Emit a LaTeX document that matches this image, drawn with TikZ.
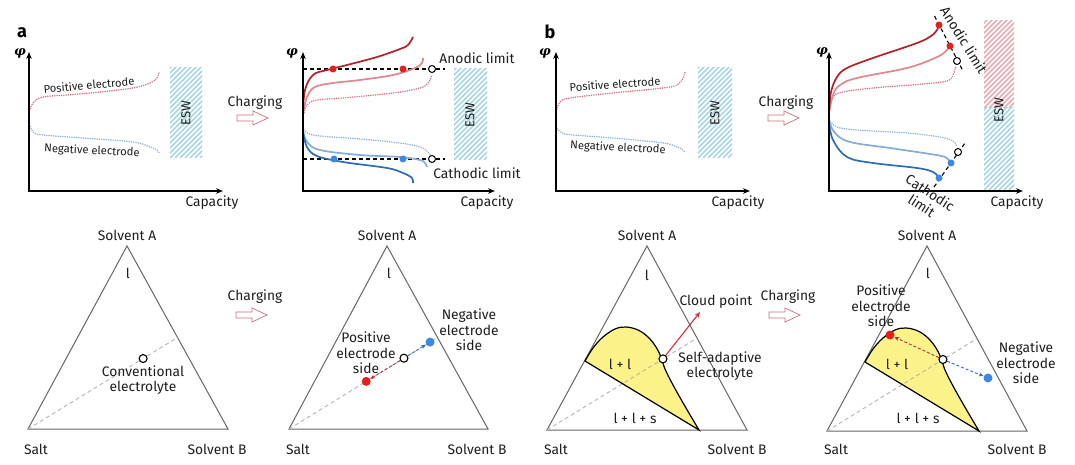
\documentclass[tikz,border=0pt]{standalone}
\usepackage{fontspec}
\setmainfont{Fira Sans}
\newfontfamily\phifont{DejaVu Serif}
\usetikzlibrary{arrows.meta,calc}
\definecolor{dkred}{HTML}{B2202B}
\definecolor{mdred}{HTML}{E0868E}
\definecolor{dtred}{HTML}{D47482}
\definecolor{ptred}{HTML}{E3201B}
\definecolor{dkblue}{HTML}{2E6CB0}
\definecolor{mdblue}{HTML}{86ABD4}
\definecolor{dtblue}{HTML}{8EB2D8}
\definecolor{ptblue}{HTML}{3C88E2}
\definecolor{htblue}{HTML}{A8D6E6}
\definecolor{htred}{HTML}{E9AEB4}
\definecolor{ylw}{HTML}{FBF38A}
\definecolor{trig}{HTML}{666666}
\definecolor{guideg}{HTML}{B4B4B4}
\definecolor{arrred}{HTML}{C9727C}
\definecolor{cloudred}{HTML}{D5303F}
\definecolor{txt}{HTML}{1E1E1E}
\definecolor{brred}{HTML}{A8343C}
\definecolor{brblue}{HTML}{3A70B0}

\newcommand\hatchbox[5]{%
  \begin{scope}
    \clip (#1,#2) rectangle (#3,#4);
    \foreach \i in {-200,-195,...,40}
      \draw[#5, line width=1.6pt] ({#1+\i},{#4}) -- ++(200,-200);
  \end{scope}}
\newcommand\chgarrow[2]{%
  \draw[arrred, line width=0.7pt, fill=white]
    ({#1},{#2-3}) -- ({#1+16},{#2-3}) -- ({#1+16},{#2-7}) -- ({#1+31},{#2})
    -- ({#1+16},{#2+7}) -- ({#1+16},{#2+3}) -- ({#1},{#2+3}) -- cycle;}
\newcommand\phisym{{\phifont\bfseries\itshape φ}}

\begin{document}
\begin{tikzpicture}[x=1pt,y=-1pt,
  lbl/.style={font=\fontsize{13.8}{15.5}\selectfont, inner sep=0pt, text=txt},
  tlbl/.style={font=\fontsize{13.8}{15.5}\selectfont, inner sep=0pt, text=txt, align=center},
  clbl/.style={font=\fontsize{11.2}{13}\selectfont, inner sep=0pt, text=txt},
  eswlbl/.style={font=\fontsize{13}{14}\selectfont, inner sep=0pt, text=txt, rotate=90},
  plbl/.style={font=\bfseries\fontsize{18}{18}\selectfont, inner sep=0pt},
  philbl/.style={font=\fontsize{13}{13}\selectfont, inner sep=0pt},
  axisl/.style={line width=1.4pt, {Stealth[length=7pt,width=5.5pt]}-{Stealth[length=7pt,width=5.5pt]}},
  dotc/.style={line width=1.7pt, dash pattern=on 0pt off 2.3pt, line cap=round},
  solc/.style={line width=1.7pt},
  gred/.style={circle, fill=ptred, minimum size=7pt, inner sep=0pt},
  gblue/.style={circle, fill=ptblue, minimum size=7pt, inner sep=0pt},
  ghol/.style={circle, draw=black, fill=white, line width=1pt, minimum size=7pt, inner sep=0pt},
  tred/.style={circle, fill=ptred, minimum size=9pt, inner sep=0pt},
  tblue/.style={circle, fill=ptblue, minimum size=9pt, inner sep=0pt},
  thol/.style={circle, draw=black, fill=white, line width=1.1pt, minimum size=8pt, inner sep=0pt},
  limline/.style={black, line width=1.1pt, dash pattern=on 4pt off 3pt},
  tri/.style={draw=trig, line width=1pt},
  guide/.style={guideg, line width=0.9pt, dash pattern=on 4pt off 3pt},
  redarr/.style={brred, line width=0.9pt, dash pattern=on 3pt off 2pt, -{Stealth[length=5pt,width=4pt]}},
  bluearr/.style={brblue, line width=0.9pt, dash pattern=on 3pt off 2pt, -{Stealth[length=5pt,width=4pt]}},
  yborder/.style={black, line width=1.2pt},
]
\fill[white] (0,0) rectangle (1075,465);
\useasboundingbox (0,0) rectangle (1075,465);

%================ Panel a, top left =================
\node[plbl] (pa) at (22,33) {a};
\coordinate (a1o) at (29,191); \coordinate (a1y) at (29,52); \coordinate (a1x) at (223,191);
\hatchbox{170}{68}{202}{158}{htblue}
\node[eswlbl] (a1esw) at (186,113) {ESW};
\draw[dtred, dotc] plot[smooth, tension=0.6] coordinates {(29,113) (33,103) (43,97) (67,95) (100,92) (133,88) (150,83) (157,78) (159,72)};
\draw[dtblue, dotc] plot[smooth, tension=0.6] coordinates {(29,122) (33,132) (43,135) (83,138) (133,142) (150,147) (157,150) (159,153)};
\node[clbl, rotate=5] (a1pos) at (89,85) {Positive electrode};
\node[clbl, rotate=-3] (a1neg) at (92,151) {Negative electrode};
\draw[axisl] (a1y) -- (a1o) -- (a1x);
\node[philbl] (a1phi) at (20,53) {\phisym};
\node[lbl] (a1cap) at (212,203) {Capacity};

\node[lbl] (a1chg) at (255,103) {Charging};
\chgarrow{237}{118}

%================ Panel a, top right =================
\coordinate (a2o) at (303,191); \coordinate (a2y) at (303,52); \coordinate (a2x) at (495,191);
\hatchbox{454}{69}{487}{160}{htblue}
\node[eswlbl] (a2esw) at (470,115) {ESW};
\coordinate (an1) at (303,69); \coordinate (an2) at (445,69);
\coordinate (ca1) at (303,159); \coordinate (ca2) at (445,159);
\draw[limline] (an1) -- (an2);
\draw[limline] (ca1) -- (ca2);
\draw[dtred, dotc] plot[smooth, tension=0.6] coordinates {(303,117) (307,105) (317,100) (343,98) (393,93) (420,88) (428,83) (432,75)};
\draw[mdred, solc] plot[smooth, tension=0.6] coordinates {(303,115) (307,97) (315,87) (333,83) (360,80) (393,75) (415,68) (422,63) (423,58)};
\draw[dkred, solc] plot[smooth, tension=0.6] coordinates {(303,113) (305,90) (313,75) (327,70) (347,65) (377,57) (400,49) (408,45) (413,37)};
\draw[dtblue, dotc] plot[smooth, tension=0.6] coordinates {(303,128) (307,133) (320,136) (360,139) (400,143) (420,147) (428,152) (431,157)};
\draw[mdblue, solc] plot[smooth, tension=0.6] coordinates {(303,130) (307,142) (320,150) (360,155) (400,157) (420,160) (425,163) (427,167)};
\draw[dkblue, solc] plot[smooth, tension=0.6] coordinates {(303,132) (307,147) (317,156) (343,162) (387,168) (403,173) (412,178) (413,183)};
\node[gred] (a2r1) at (333,69) {};
\node[gred] (a2r2) at (403,69) {};
\node[ghol] (a2rh) at (432,69) {};
\node[gblue] (a2b1) at (334,159) {};
\node[gblue] (a2b2) at (403,159) {};
\node[ghol] (a2bh) at (432,159) {};
\draw[axisl] (a2y) -- (a2o) -- (a2x);
\node[philbl] (a2phi) at (292,53) {\phisym};
\node[lbl] (a2cap) at (487,203) {Capacity};
\node[lbl] (a2an) at (477,58) {Anodic limit};
\node[lbl] (a2ca) at (477,173) {Cathodic limit};

%================ Panel b, top left =================
\node[plbl] (pb) at (550,32) {b};
\coordinate (b1o) at (556,191); \coordinate (b1y) at (556,52); \coordinate (b1x) at (750,191);
\hatchbox{698}{68}{732}{158}{htblue}
\node[eswlbl] (b1esw) at (715,113) {ESW};
\draw[dtred, dotc] plot[smooth, tension=0.6] coordinates {(556,112) (560,102) (570,98) (613,93) (663,88) (677,85) (683,78) (685,72)};
\draw[dtblue, dotc] plot[smooth, tension=0.6] coordinates {(556,127) (562,133) (573,135) (613,138) (663,143) (677,147) (683,150) (685,153)};
\node[clbl, rotate=4] (b1pos) at (615,84) {Positive electrode};
\node[clbl, rotate=-3] (b1neg) at (618,148) {Negative electrode};
\draw[axisl] (b1y) -- (b1o) -- (b1x);
\node[philbl] (b1phi) at (545,53) {\phisym};
\node[lbl] (b1cap) at (738,203) {Capacity};

\node[lbl] (b1chg) at (786,103) {Charging};
\chgarrow{768}{118}

%================ Panel b, top right =================
\coordinate (b2o) at (829,191); \coordinate (b2y) at (829,52); \coordinate (b2x) at (1023,191);
\hatchbox{984}{21}{1014}{108}{htred}
\hatchbox{984}{108}{1014}{190}{htblue}
\node[eswlbl] (b2esw) at (999,110) {ESW};
\coordinate (ban1) at (934.5,16); \coordinate (ban2) at (962.5,70);
\coordinate (bca1) at (934,187); \coordinate (bca2) at (965,143);
\draw[limline] (ban1) -- (ban2);
\draw[limline] (bca1) -- (bca2);
\draw[dtred, dotc] plot[smooth, tension=0.6] coordinates {(829,113) (833,97) (843,92) (873,88) (923,84) (947,81) (953,75) (956,66)};
\draw[mdred, solc] plot[smooth, tension=0.6] coordinates {(829,113) (833,95) (840,85) (857,78) (907,68) (935,58) (945,52) (950,46)};
\draw[dkred, solc] plot[smooth, tension=0.6] coordinates {(829,112) (831,92) (837,77) (847,68) (873,58) (917,43) (931,36) (937,30) (939,25)};
\draw[dtblue, dotc] plot[smooth, tension=0.6] coordinates {(829,120) (837,127) (857,130) (907,133) (940,137) (953,141) (957,147)};
\draw[mdblue, solc] plot[smooth, tension=0.6] coordinates {(829,121) (835,133) (850,142) (890,148) (930,154) (945,157) (951,163)};
\draw[dkblue, solc] plot[smooth, tension=0.6] coordinates {(829,122) (833,140) (847,157) (873,163) (917,168) (933,172) (939,178)};
\node[gred] (b2r1) at (939,25) {};
\node[gred] (b2r2) at (950,46) {};
\node[ghol] (b2rh) at (957,61) {};
\node[gblue] (b2b1) at (939,178) {};
\node[gblue] (b2b2) at (951,163) {};
\node[ghol] (b2bh) at (958,152) {};
\draw[axisl] (b2y) -- (b2o) -- (b2x);
\node[philbl] (b2phi) at (822,52) {\phisym};
\node[lbl] (b2cap) at (1017,203) {Capacity};
\node[lbl, rotate=-58] (b2an) at (964,40) {Anodic limit};
\node[tlbl, rotate=-33] (b2ca) at (926,199) {Cathodic\\limit};

%================ Triangle a, left =================
\coordinate (TA1) at (127,246); \coordinate (TS1) at (28,429); \coordinate (TB1) at (228,429);
\draw[tri] (TA1) -- (TS1) -- (TB1) -- cycle;
\coordinate (M1) at ($(TA1)!0.5!(TB1)$);
\draw[guide] (TS1) -- (M1);
\node[thol] (C1) at ($(TS1)!0.77!(M1)$) {};
\node[lbl] (t1A) at (127,235) {Solvent A};
\node[lbl] (t1S) at (36,449) {Salt};
\node[lbl] (t1B) at (217,449) {Solvent B};
\node[lbl] (t1l) at (128,273) {l};
\node[tlbl] (t1c) at (143,380) {Conventional\\electrolyte};

\node[lbl] (a3chg) at (255,297) {Charging};
\chgarrow{236}{315}

%================ Triangle a, right =================
\coordinate (TA2) at (387,246); \coordinate (TS2) at (289,429); \coordinate (TB2) at (488,429);
\draw[tri] (TA2) -- (TS2) -- (TB2) -- cycle;
\coordinate (M2) at ($(TA2)!0.5!(TB2)$);
\draw[guide] (TS2) -- (M2);
\node[thol] (C2) at ($(TS2)!0.774!(M2)$) {};
\node[tblue] (B2) at ($(TS2)!0.95!(M2)$) {};
\node[tred] (R2) at ($(TS2)!0.52!(M2)$) {};
\draw[redarr] (C2) -- (R2);
\draw[bluearr] (C2) -- (B2);
\node[lbl] (t2A) at (387,235) {Solvent A};
\node[lbl] (t2S) at (298,449) {Salt};
\node[lbl] (t2B) at (477,449) {Solvent B};
\node[lbl] (t2l) at (389,273) {l};
\node[tlbl] (t2p) at (366,353) {Positive\\electrode\\side};
\node[tlbl] (t2n) at (469,330) {Negative\\electrode\\side};

%================ Triangle b, left =================
\coordinate (TA3) at (647,246); \coordinate (TS3) at (547,430); \coordinate (TB3) at (747,430);
\fill[ylw] plot[smooth, tension=0.6] coordinates {(585,361) (593,348) (603,337) (615,329) (626,327) (638,330) (648,337) (656,347) (661,357) (665,369) (673,385) (686,408) (699,430)} -- cycle;
\draw[tri] (TA3) -- (TS3) -- (TB3) -- cycle;
\coordinate (M3) at ($(TA3)!0.5!(TB3)$);
\draw[guide] (TS3) -- (M3);
\draw[yborder] plot[smooth, tension=0.6] coordinates {(585,361) (593,348) (603,337) (615,329) (626,327) (638,330) (648,337) (656,347) (661,357) (665,369) (673,385) (686,408) (699,430)} -- cycle;
\node[thol] (C3) at ($(TS3)!0.773!(M3)$) {};
\coordinate (cp) at (700,312);
\draw[cloudred, line width=1.1pt, -{Stealth[length=6pt,width=5pt]}] (C3) -- (cp);
\node[lbl] (t3A) at (647,235) {Solvent A};
\node[lbl] (t3S) at (556,449) {Salt};
\node[lbl] (t3B) at (737,449) {Solvent B};
\node[lbl] (t3l) at (647,275) {l};
\node[lbl] (t3ll) at (620,364) {l + l};
\node[lbl] (t3lls) at (635,418) {l + l + s};
\node[lbl] (t3cp) at (716,302) {Cloud point};
\node[tlbl] (t3sa) at (720,366) {Self-adaptive\\electrolyte};

\node[lbl] (b3chg) at (788,297) {Charging};
\chgarrow{769}{315}

%================ Triangle b, right =================
\coordinate (TA4) at (927,246); \coordinate (TS4) at (827,431); \coordinate (TB4) at (1027,431);
\fill[ylw] plot[smooth, tension=0.6] coordinates {(865,362) (873,349) (883,338) (895,330) (906,328) (918,331) (928,338) (936,348) (941,358) (945,370) (953,386) (966,409) (979,431)} -- cycle;
\draw[tri] (TA4) -- (TS4) -- (TB4) -- cycle;
\coordinate (M4) at ($(TA4)!0.5!(TB4)$);
\draw[guide] (TS4) -- (M4);
\draw[yborder] plot[smooth, tension=0.6] coordinates {(865,362) (873,349) (883,338) (895,330) (906,328) (918,331) (928,338) (936,348) (941,358) (945,370) (953,386) (966,409) (979,431)} -- cycle;
\node[thol] (C4) at ($(TS4)!0.773!(M4)$) {};
\node[tred] (R4) at (890,335) {};
\node[tblue] (B4) at (988,378) {};
\draw[redarr] (C4) -- (R4);
\draw[bluearr] (C4) -- (B4);
\node[lbl] (t4A) at (927,235) {Solvent A};
\node[lbl] (t4S) at (836,449) {Salt};
\node[lbl] (t4B) at (1017,449) {Solvent B};
\node[lbl] (t4l) at (928,273) {l};
\node[lbl] (t4ll) at (897,364) {l + l};
\node[lbl] (t4lls) at (918,418) {l + l + s};
\node[tlbl] (t4p) at (881,306) {Positive\\electrode\\side};
\node[tlbl] (t4n) at (1026,363) {Negative\\electrode\\side};
\end{tikzpicture}
\end{document}
